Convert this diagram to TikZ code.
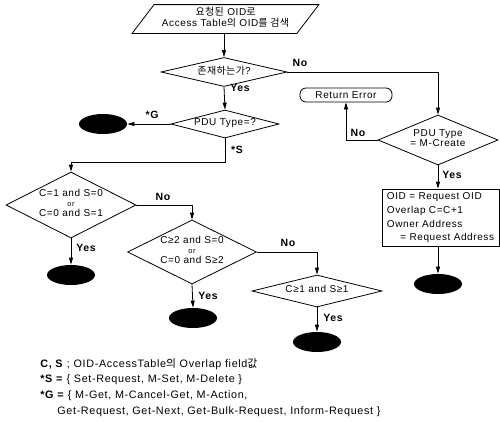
\documentclass[tikz,border=0pt]{standalone}
\usepackage{fontspec}
\setmainfont{Liberation Sans}[LetterSpace=6]
\newfontfamily\kr{Noto Sans CJK KR}[LetterSpace=4]
\usetikzlibrary{shapes.geometric,arrows.meta}

\colorlet{ink}{black}
\newcommand{\dtext}[1]{\raisebox{-0.38em}{\smash{\makebox[0pt]{\renewcommand{\arraystretch}{0.85}\begin{tabular}{@{}c@{}}#1\end{tabular}}}}}
\newcommand{\orw}{{\fontsize{7.5}{8}\selectfont or}}

\begin{document}
\begin{tikzpicture}[x=1pt, y=-1pt, line width=0.8pt,
  every node/.style={font=\fontsize{10}{12}\selectfont},
  dia/.style={diamond, draw=ink, inner sep=0pt},
  stop/.style={ellipse, fill=ink, minimum width=48pt, minimum height=20pt, inner sep=0pt},
  arr/.style={-{Triangle[length=7pt,width=4pt]}},
  lbl/.style={font=\fontsize{10.5}{12}\selectfont\bfseries, inner sep=0pt},
  note/.style={anchor=west, inner sep=0pt, font=\fontsize{10.8}{12}\selectfont}]
  \useasboundingbox (0,0) rectangle (500,421);
  \draw (225.5, 19) node[minimum width=164pt, minimum height=28pt, inner sep=0pt] (req)
                        {\dtext{{\kr 요청된} OID{\kr 로}\\Access Table{\kr 의} OID{\kr 를 검색}}};
  \draw[color=ink] ([xshift=-11pt]req.south west) -- ([xshift=11pt]req.north west)
                   -- ([xshift=11pt]req.north east) -- ([xshift=-11pt]req.south east) -- cycle;
  \draw (224, 72)  node[dia, minimum width=126pt, minimum height=29pt] (exist) {\dtext{{\kr 존재하는가}?}};
  \draw (225, 124) node[dia, minimum width=108pt, minimum height=28pt] (pdu) {\dtext{PDU Type=?}};
  \draw (103, 124) node[stop] (gend) {};
  \draw (438, 140) node[dia, minimum width=120pt, minimum height=50pt] (create) {\dtext{PDU Type\\= M-Create}};
  \draw (346, 95)  node[draw=ink, rounded corners=6pt, minimum width=92pt, minimum height=14pt, inner sep=0pt] (err) {Return Error};
  \draw (440.5, 217.5) node[draw=ink, minimum width=117pt, minimum height=57pt, inner sep=0pt] (upd)
                        {\renewcommand{\arraystretch}{1.15}\begin{tabular}{@{}l@{}}OID = Request OID\\Overlap C=C+1\\Owner Address\\\quad\ = Request Address\end{tabular}};
  \draw (438, 284) node[stop] (cend) {};
  \draw (71, 205)  node[dia, minimum width=130pt, minimum height=66pt] (one) {\dtext{C=1 and S=0\\\orw\\C=0 and S=1}};
  \draw (71, 275)  node[stop] (oend) {};
  \draw (192, 252) node[dia, minimum width=129pt, minimum height=64pt] (two) {\dtext{C≥2 and S=0\\\orw\\C=0 and S≥2}};
  \draw (193, 318) node[stop] (tend) {};
  \draw (317, 291) node[dia, minimum width=130pt, minimum height=32pt] (both) {\dtext{C≥1 and S≥1}};
  \draw (317, 342) node[stop] (bend) {};
  \draw (300, 63)  node[lbl] (lno1) {No};
  \draw (240, 88)  node[lbl] (lyes1) {Yes};
  \draw (152, 115) node[lbl] (lg) {*G};
  \draw (237, 150) node[lbl] (ls) {*S};
  \draw (358, 133) node[lbl] (lno2) {No};
  \draw (452, 175) node[lbl] (lyes2) {Yes};
  \draw (86, 248)  node[lbl] (lyes3) {Yes};
  \draw (163, 197) node[lbl] (lno3) {No};
  \draw (208, 296) node[lbl] (lyes4) {Yes};
  \draw (288, 243) node[lbl] (lno4) {No};
  \draw (333, 318) node[lbl] (lyes5) {Yes};
  \draw (40, 364)  node[note] (n1) {\textbf{C, S} ; OID-AccessTable{\kr 의} Overlap field{\kr 값}};
  \draw (40, 380)  node[note] (n2) {\textbf{*S =} \{ Set-Request, M-Set, M-Delete \}};
  \draw (40, 396)  node[note] (n3) {\textbf{*G =} \{ M-Get, M-Cancel-Get, M-Action,};
  \draw (57, 412)  node[note] (n4) {Get-Request, Get-Next, Get-Bulk-Request, Inform-Request \}};
  \draw[arr, color=ink] (req.south -| exist.north) -- (exist.north);
  \draw[arr, color=ink] (exist.south) -- (pdu.north);
  \draw[arr, color=ink] (exist.east) -| (create.north);
  \draw[arr, color=ink] (pdu.west) -- (gend.east);
  \draw[arr, color=ink] (pdu.south) -- ++(0, 24) -| (one.north);
  \draw[arr, color=ink] (create.west) -| (err.south);
  \draw[arr, color=ink] (create.south) -- (create.south |- upd.north);
  \draw[arr, color=ink] (upd.south -| cend.north) -- (cend.north);
  \draw[arr, color=ink] (one.south) -- (oend.north);
  \draw[arr, color=ink] (one.east) -| (two.north);
  \draw[arr, color=ink] (two.south) -- (tend.north);
  \draw[arr, color=ink] (two.east) -| (both.north);
  \draw[arr, color=ink] (both.south) -- (bend.north);
\end{tikzpicture}
\end{document}
